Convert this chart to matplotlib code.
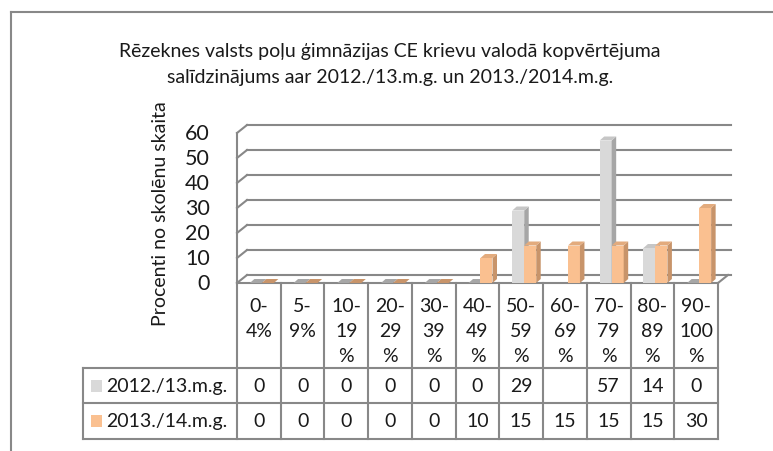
import numpy as np
import matplotlib
matplotlib.use("Agg")
import matplotlib.pyplot as plt
from matplotlib.patches import Polygon, Rectangle
from matplotlib.transforms import offset_copy

# ── Data ──────────────────────────────────────────────────────────────────────
categories = ["0-\n4%", "5-\n9%", "10-\n19\n%", "20-\n29\n%", "30-\n39\n%",
              "40-\n49\n%", "50-\n59\n%", "60-\n69\n%", "70-\n79\n%",
              "80-\n89\n%", "90-\n100\n%"]
series_names = ["2012./13.m.g.", "2013./14.m.g."]
values_2012 = [0, 0, 0, 0, 0, 0, 29, np.nan, 57, 14, 0]
values_2013 = [0, 0, 0, 0, 0, 10, 15, 15, 15, 15, 30]
yticks = [0, 10, 20, 30, 40, 50, 60]

title = ("Rēzeknes valsts poļu ģimnāzijas CE krievu valodā kopvērtējuma\n"
         "salīdzinājums aar 2012./13.m.g. un 2013./2014.m.g.")
ylabel = "Procenti no skolēnu skaita"

# ── Style ─────────────────────────────────────────────────────────────────────
plt.rcParams["font.family"] = ["Lato", "DejaVu Sans"]
LINE = "#888888"
TXT = "#1a1a1a"
FS = 14
GRAY = {"front": "#d9d9d9", "side": "#a6a6a6", "top": "#c6c6c6"}
ORNG = {"front": "#fac090", "side": "#c8946a", "top": "#e3ab7d"}

W, H = 773, 452
fig = plt.figure(figsize=(W / 100, H / 100), dpi=100)
fig.patch.set_facecolor("white")

# overlay in pixel coordinates for frame, texts and table
bg = fig.add_axes([0, 0, 1, 1])
bg.set_xlim(0, W)
bg.set_ylim(H, 0)
bg.axis("off")

# plot area (front plane): x -0.5..10.5 -> 237..718 px, y 0..60 -> 284..134 px
X0, X1 = 237, 718
Y0, Y1 = 284, 134
ax = fig.add_axes([X0 / W, (H - Y0) / H, (X1 - X0) / W, (Y0 - Y1) / H])
ax.set_xlim(-0.5, 10.5)
ax.set_ylim(0, 60)
ax.patch.set_alpha(0)
ax.axis("off")

n = len(categories)
x = np.arange(n)
col_w = (X1 - X0) / n

# ── Frame ─────────────────────────────────────────────────────────────────────
bg.plot([11, W], [13, 13], color=LINE, lw=1.5)
bg.plot([11, 11], [13, H], color=LINE, lw=1.5)

# ── Title ─────────────────────────────────────────────────────────────────────
for i, line in enumerate(title.split("\n")):
    bg.text(390, 51 + i * 26, line, ha="center", va="center",
            fontsize=FS, color=TXT)

# ── Walls, floor and gridlines ────────────────────────────────────────────────
back = offset_copy(ax.transData, fig=fig, x=10, y=8, units="dots")
for v in yticks:
    ax.plot([-0.5, 10.57], [v, v], color=LINE, lw=1.5, transform=back,
            clip_on=False, zorder=1)
    # side wall diagonals
    p0 = ax.transData.transform((-0.5, v))
    p1 = back.transform((-0.5, v))
    ax.plot([p0[0], p1[0]], [p0[1], p1[1]], color=LINE, lw=1.5,
            transform=None, clip_on=False, zorder=1)
    ax.text(-0.5, v, str(v), transform=offset_copy(ax.transData, fig=fig,
            x=-27, y=0, units="dots"), ha="right", va="center",
            fontsize=15.5, color=TXT)
ax.plot([-0.5, -0.5], [0, 60], color=LINE, lw=1.5, clip_on=False, zorder=1)
# floor front edge and right diagonal
ax.plot([-0.5, 10.5], [0, 0], color=LINE, lw=1.5, clip_on=False, zorder=1)
p0 = ax.transData.transform((10.5, 0))
p1 = back.transform((10.5, 0))
ax.plot([p0[0], p1[0]], [p0[1], p1[1]], color=LINE, lw=1.5,
        transform=None, clip_on=False, zorder=1)

# ── Bars (pseudo 3D) ──────────────────────────────────────────────────────────
bw = 12 / col_w
dx = 4.5 / col_w
dy = 4 / ((Y0 - Y1) / 60)


def bars3d(offset, vals, cols):
    vals = np.asarray(vals, dtype=float)
    ok = ~np.isnan(vals)
    rects = ax.bar(x[ok] + offset, vals[ok], width=bw, color=cols["front"],
                   edgecolor="none", zorder=3)
    for r in rects:
        xl, xr, top = r.get_x(), r.get_x() + r.get_width(), r.get_height()
        if top > 0:
            ax.add_patch(Polygon([(xr, 0), (xr, top), (xr + dx, top + dy),
                                  (xr + dx, dy)], closed=True,
                                 facecolor=cols["side"], edgecolor="none",
                                 zorder=3))
        ax.add_patch(Polygon([(xl, top), (xr, top), (xr + dx, top + dy),
                              (xl + dx, top + dy)], closed=True,
                             facecolor=cols["top"] if top > 0 else cols["side"],
                             edgecolor="none", zorder=3))


bars3d(-3 / col_w, values_2012, GRAY)
bars3d(9 / col_w, values_2013, ORNG)

# ── Y label ───────────────────────────────────────────────────────────────────
bg.text(161, 214, ylabel, rotation=90, ha="center", va="center",
        fontsize=FS, color=TXT)

# ── Data table ────────────────────────────────────────────────────────────────
LX = 83
R1, R2, R3 = 369, 404, 440
edges = X0 + np.arange(n + 1) * col_w
for e in edges:
    bg.plot([e, e], [Y0, R3], color=LINE, lw=1.5)
bg.plot([LX, LX], [R1, R3], color=LINE, lw=1.5)
for yy in (R1, R2, R3):
    bg.plot([LX, X1], [yy, yy], color=LINE, lw=1.5)

for i, lab in enumerate(categories):
    cx = (edges[i] + edges[i + 1]) / 2
    for k, part in enumerate(lab.split("\n")):
        bg.text(cx, 307 + k * 25, part, ha="center", va="center",
                fontsize=FS, color=TXT)

for row, (name, vals, cols) in enumerate(
        [(series_names[0], values_2012, GRAY),
         (series_names[1], values_2013, ORNG)]):
    ytop, ybot = [(R1, R2), (R2, R3)][row]
    cy = (ytop + ybot) / 2
    bg.add_patch(Rectangle((91, cy - 6), 11, 12, facecolor=cols["front"],
                           edgecolor="none"))
    bg.text(106, cy, name, ha="left", va="center", fontsize=FS, color=TXT)
    for i, v in enumerate(vals):
        if np.isnan(v):
            continue
        cx = (edges[i] + edges[i + 1]) / 2
        bg.text(cx, cy, f"{v:g}", ha="center", va="center",
                fontsize=FS, color=TXT)

fig.savefig("out.png", dpi=100, facecolor="white")
